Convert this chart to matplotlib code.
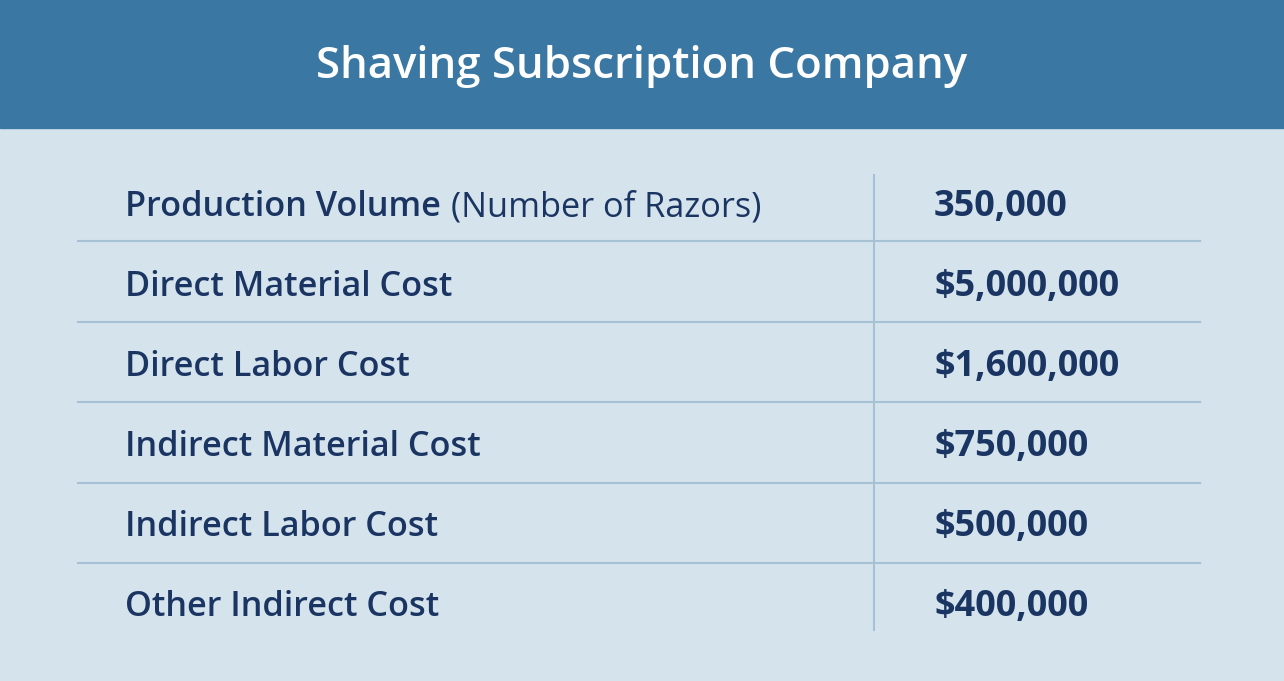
import matplotlib.pyplot as plt

title = "Shaving Subscription Company"
labels = ["Production Volume", "Direct Material Cost", "Direct Labor Cost",
          "Indirect Material Cost", "Indirect Labor Cost", "Other Indirect Cost"]
label_notes = ["(Number of Razors)", "", "", "", "", ""]
values = ["350,000", "$5,000,000", "$1,600,000", "$750,000", "$500,000", "$400,000"]

navy = "#1b3563"
fig = plt.figure(figsize=(12.84, 6.81), dpi=100)
fig.patch.set_facecolor("#d5e3ed")
ax = fig.add_axes([0, 0, 1, 1])
ax.set_xlim(0, 1284)
ax.set_ylim(681, 0)
ax.axis("off")

# header band
ax.add_patch(plt.Rectangle((0, 0), 1284, 128, color="#3a78a3"))
ax.text(642, 67, title, ha="center", va="center", color="white",
        fontsize=31.5, fontweight="semibold", family="Open Sans")

# grid lines
for i in range(len(labels) - 1):
    y = 241 + i * 80.5
    ax.plot([78, 1200], [y, y], color="#a6c0d4", lw=1.5)
ax.plot([874, 874], [175, 630], color="#a6c0d4", lw=1.5)

for i, (lab, note, val) in enumerate(zip(labels, label_notes, values)):
    y = 207 + i * 80
    t = ax.text(125, y, lab, ha="left", va="center", color=navy,
                fontsize=24.7, fontweight="semibold", family="Open Sans")
    if note:
        fig.canvas.draw()
        bb = t.get_window_extent()
        ax.text(bb.x1 + 10, y, note, ha="left", va="center", color=navy,
                fontsize=24.7, family="Open Sans")
    ax.text(934, y, val, ha="left", va="center", color=navy,
            fontsize=26, fontweight="bold", family="Open Sans")

fig.savefig("out.png", dpi=100, facecolor=fig.get_facecolor())
